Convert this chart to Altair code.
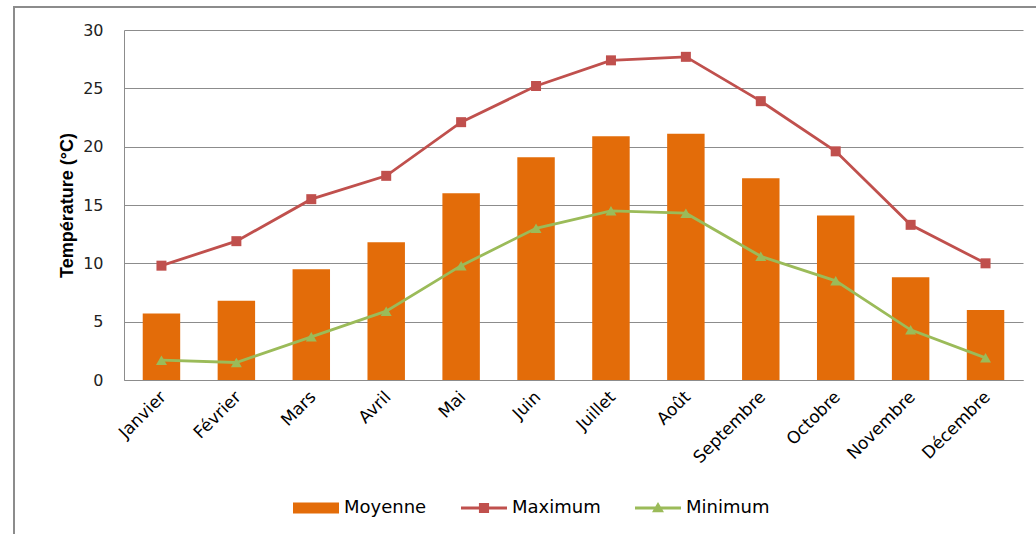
import altair as alt
import pandas as pd

months = ["Janvier", "Février", "Mars", "Avril", "Mai", "Juin", "Juillet",
          "Août", "Septembre", "Octobre", "Novembre", "Décembre"]
moyenne = [5.7, 6.8, 9.5, 11.8, 16.0, 19.1, 20.9, 21.1, 17.3, 14.1, 8.8, 6.0]
maximum = [9.8, 11.9, 15.5, 17.5, 22.1, 25.2, 27.4, 27.7, 23.9, 19.6, 13.3, 10.0]
minimum = [1.7, 1.5, 3.7, 5.9, 9.8, 13.0, 14.5, 14.3, 10.6, 8.5, 4.3, 1.9]
series = ["Moyenne", "Maximum", "Minimum"]
colors = ["#E36C09", "#C0504D", "#9BBB59"]
y_ticks = [0, 5, 10, 15, 20, 25, 30]

# legend symbol paths (bar swatch, line + square, line + triangle)
legend_paths = [
    "M-1,-0.24H1V0.24H-1Z",
    "M-1,-0.06H1V0.06H-1Z M-0.22,-0.22H0.22V0.22H-0.22Z",
    "M-1,-0.06H1V0.06H-1Z M0,-0.26L0.26,0.18H-0.26Z",
]

rows = []
for name, vals in zip(series, [moyenne, maximum, minimum]):
    for m, v in zip(months, vals):
        rows.append({"Mois": m, "Serie": name, "Valeur": v})
df = pd.DataFrame(rows)

FONT = "DejaVu Sans"

x_enc = alt.X(
    "Mois:N", sort=months,
    scale=alt.Scale(paddingInner=0.5, paddingOuter=0.25),
    axis=alt.Axis(title=None, labelAngle=-45, labelAlign="right",
                  labelBaseline="middle", labelFontSize=17, labelFont=FONT,
                  labelColor="#000", ticks=False, domainColor="#8c8c8c",
                  labelPadding=14, labelOffset=2, grid=False),
)
y_enc = alt.Y(
    "Valeur:Q",
    scale=alt.Scale(domain=[0, 30], nice=False),
    axis=alt.Axis(values=y_ticks, title="Température (°C)",
                  titleFont="Liberation Sans", titleFontSize=18,
                  titleFontWeight="bold", titleColor="#000",
                  labelFont=FONT, labelFontSize=16, labelColor="#222",
                  ticks=False, labelPadding=21, gridColor="#8c8c8c",
                  domainColor="#8c8c8c", titlePadding=6),
)
color_scale = alt.Scale(domain=series, range=colors)

base = alt.Chart(df)

frame = alt.Chart(alt.Data(values=[{}])).mark_rect(
    fillOpacity=0, stroke="#8c8c8c", strokeWidth=2
).encode(
    x=alt.value(-110), x2=alt.value(930),
    y=alt.value(-23), y2=alt.value(530),
)

bars = base.transform_filter(alt.datum.Serie == "Moyenne").mark_bar().encode(
    x=x_enc, y=y_enc,
    color=alt.Color("Serie:N", scale=color_scale),
)

lines = base.transform_filter(alt.datum.Serie != "Moyenne").mark_line(
    strokeWidth=2.8
).encode(
    x=x_enc, y=y_enc,
    color=alt.Color("Serie:N", scale=color_scale),
)

pts_max = base.transform_filter(alt.datum.Serie == "Maximum").mark_point(
    shape="square", filled=True, size=100, opacity=1
).encode(x=x_enc, y=y_enc, color=alt.Color("Serie:N", scale=color_scale))

pts_min = base.transform_filter(alt.datum.Serie == "Minimum").mark_point(
    shape="triangle-up", filled=True, size=120, opacity=1
).encode(x=x_enc, y=y_enc, color=alt.Color("Serie:N", scale=color_scale))

legend_layer = base.mark_point(filled=True, opacity=0).encode(
    x=x_enc, y=y_enc,
    color=alt.Color(
        "Serie:N", scale=color_scale,
        legend=alt.Legend(title=None, orient="none", legendX=169, legendY=455,
                          direction="horizontal", symbolSize=2116,
                          symbolStrokeWidth=0, symbolOpacity=1,
                          labelFont=FONT, labelFontSize=18, labelColor="#000",
                          labelOffset=5, columnPadding=34),
    ),
    shape=alt.Shape("Serie:N", scale=alt.Scale(domain=series, range=legend_paths)),
)

chart = alt.layer(frame, bars, lines, pts_max, pts_min, legend_layer).properties(
    width=899, height=350,
    padding={"left": 124, "top": 30, "right": 13, "bottom": 154},
    autosize=alt.AutoSizeParams(type="none"),
    background="white",
).configure_view(stroke=None)

chart.save("out.html", embed_options={"renderer": "svg", "actions": False})
